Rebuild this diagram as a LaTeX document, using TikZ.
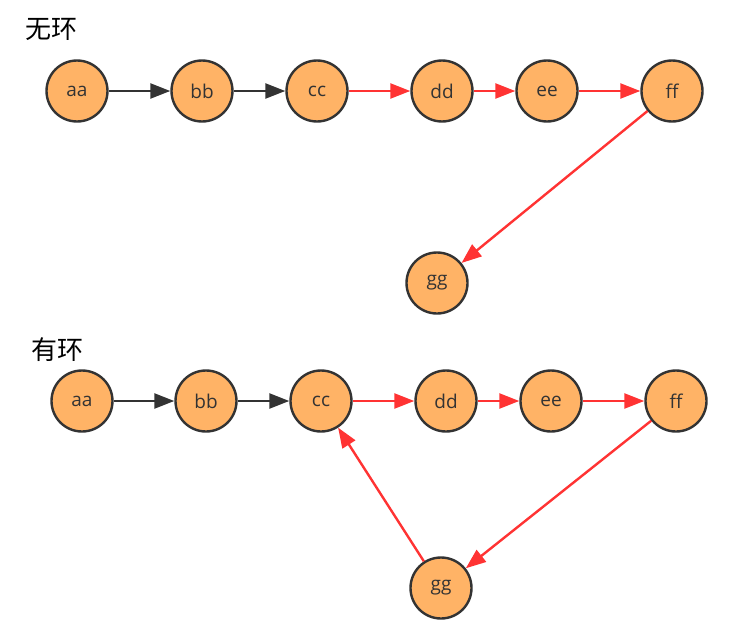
\documentclass[tikz,border=0pt]{standalone}
\usepackage{fontspec}
\setmainfont{Open Sans}
\newfontfamily\cjk{Noto Sans CJK SC}
\usetikzlibrary{arrows.meta}
\definecolor{nodefill}{HTML}{FFB366}
\definecolor{edgegray}{HTML}{333333}
\definecolor{edgered}{HTML}{FF3333}
\tikzset{
	vtx/.style = {circle, draw = edgegray, line width = 2.4pt, fill = nodefill, minimum size = 61pt, inner sep = 0pt, font = \fontsize{19pt}{21pt}\selectfont, text = edgegray},
	blkarrow/.style = {draw = edgegray, line width = 2.4pt, -{Triangle[length = 20pt, width = 15pt]}},
	redarrow/.style = {draw = edgered, line width = 2.4pt, -{Triangle[length = 20pt, width = 15pt]}},
	title/.style = {font = \cjk\fontsize{26pt}{28pt}\selectfont, text = black}
}

\begin{document}
\begin{tikzpicture} [x = 1pt, y = -1pt]
	\useasboundingbox (0,0) rectangle (732,624);
	% without cycle
	\node [title] (t1) at (52,29) {无环};
	\node [vtx] (a1) at (77,91) {aa};
	\node [vtx] (b1) at (202,91) {bb};
	\node [vtx] (c1) at (317,91) {cc};
	\node [vtx] (d1) at (442,91) {dd};
	\node [vtx] (e1) at (547,91) {ee};
	\node [vtx] (f1) at (672,91) {ff};
	\node [vtx] (g1) at (437,283) {gg};
	\draw [blkarrow] (a1) -- (b1);
	\draw [blkarrow] (b1) -- (c1);
	\draw [redarrow] (c1) -- (d1);
	\draw [redarrow] (d1) -- (e1);
	\draw [redarrow] (e1) -- (f1);
	\draw [redarrow] (f1) -- (g1);
	% with cycle
	\node [title] (t2) at (57,350) {有环};
	\node [vtx] (a2) at (82,401) {aa};
	\node [vtx] (b2) at (206,401) {bb};
	\node [vtx] (c2) at (321,401) {cc};
	\node [vtx] (d2) at (446,401) {dd};
	\node [vtx] (e2) at (551,401) {ee};
	\node [vtx] (f2) at (676,401) {ff};
	\node [vtx] (g2) at (441,588) {gg};
	\draw [blkarrow] (a2) -- (b2);
	\draw [blkarrow] (b2) -- (c2);
	\draw [redarrow] (c2) -- (d2);
	\draw [redarrow] (d2) -- (e2);
	\draw [redarrow] (e2) -- (f2);
	\draw [redarrow] (f2) -- (g2);
	\draw [redarrow] (g2) -- (c2);
\end{tikzpicture}
\end{document}
